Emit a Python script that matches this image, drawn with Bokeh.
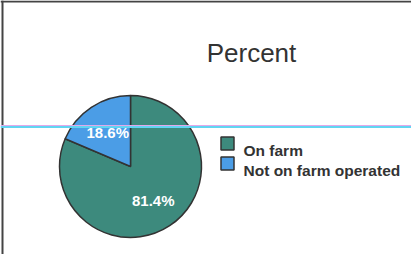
import math
from bokeh.plotting import figure
from bokeh.models import Range1d, ColumnDataSource, Span
from bokeh.core.properties import value
from bokeh.embed import file_html
from bokeh.resources import INLINE

# ---- data ----
categories = ["On farm", "Not on farm operated"]
percents = [81.4, 18.6]
colors = ["#3d8a7d", "#4b9de6"]
title_text = "Percent"

# ---- layout (page pixels) ----
W, H = 411, 254


def py(page_y):
    return 270 - page_y


p = figure(width=W, height=H, output_backend="svg", toolbar_location=None,
           x_range=Range1d(8, 8 + W), y_range=Range1d(8, 8 + H),
           min_border=0, x_axis_location=None, y_axis_location=None)
p.grid.visible = False
p.outline_line_color = None
p.background_fill_color = "white"
p.border_fill_color = "white"

# pie geometry
cx, cy, r = 138, py(174), 71
total = sum(percents)
starts, ends, mids = [], [], []
a = math.pi / 2
for v in percents:
    b = a - v / total * 2 * math.pi
    starts.append(a)
    ends.append(b)
    mids.append((a + b) / 2)
    a = b

src = ColumnDataSource(dict(start=starts, end=ends, color=colors, cat=categories))
p.wedge(x=cx, y=cy, radius=r, start_angle="start", end_angle="end",
        direction="clock", fill_color="color", line_color="#333333",
        line_width=1.5, source=src)

lab = ColumnDataSource(dict(
    x=[cx + 0.58 * r * math.cos(m) for m in mids],
    y=[cy + 0.58 * r * math.sin(m) for m in mids],
    t=[f"{v:.1f}%" for v in percents]))
p.text(x="x", y="y", text="t", source=lab, text_color="white",
       text_font=value("Liberation Sans"), text_font_style="bold",
       text_font_size="15px", text_align="center", text_baseline="middle")

# title
p.text(x=[259], y=[py(60)], text=[title_text], text_color="#333333",
       text_font=value("Liberation Sans"), text_font_size="26px",
       text_align="center", text_baseline="alphabetic")

# legend
leg = ColumnDataSource(dict(
    x=[235] * len(categories),
    y=[py(151) - 20 * i for i in range(len(categories))],
    ty=[py(157.5) - 20 * i for i in range(len(categories))],
    color=colors, cat=categories))
p.rect(x="x", y="y", width=13, height=13, fill_color="color",
       line_color="#333333", line_width=1.5, source=leg)
p.text(x=251, y="ty", text="cat", source=leg, text_color="#333333",
       text_font=value("Liberation Sans"), text_font_style="bold",
       text_font_size="15.5px", text_align="left", text_baseline="alphabetic")

# frame
p.add_layout(Span(location=10, dimension="height", line_color="#444444", line_width=2))
p.add_layout(Span(location=py(9), dimension="width", line_color="#444444", line_width=2))

# scan line
p.add_layout(Span(location=py(133), dimension="width", line_color="#e2a8ea", line_width=1))
p.add_layout(Span(location=py(134.5), dimension="width", line_color="#62d4f2", line_width=2))

open("out.html", "w").write(file_html(p, INLINE))
